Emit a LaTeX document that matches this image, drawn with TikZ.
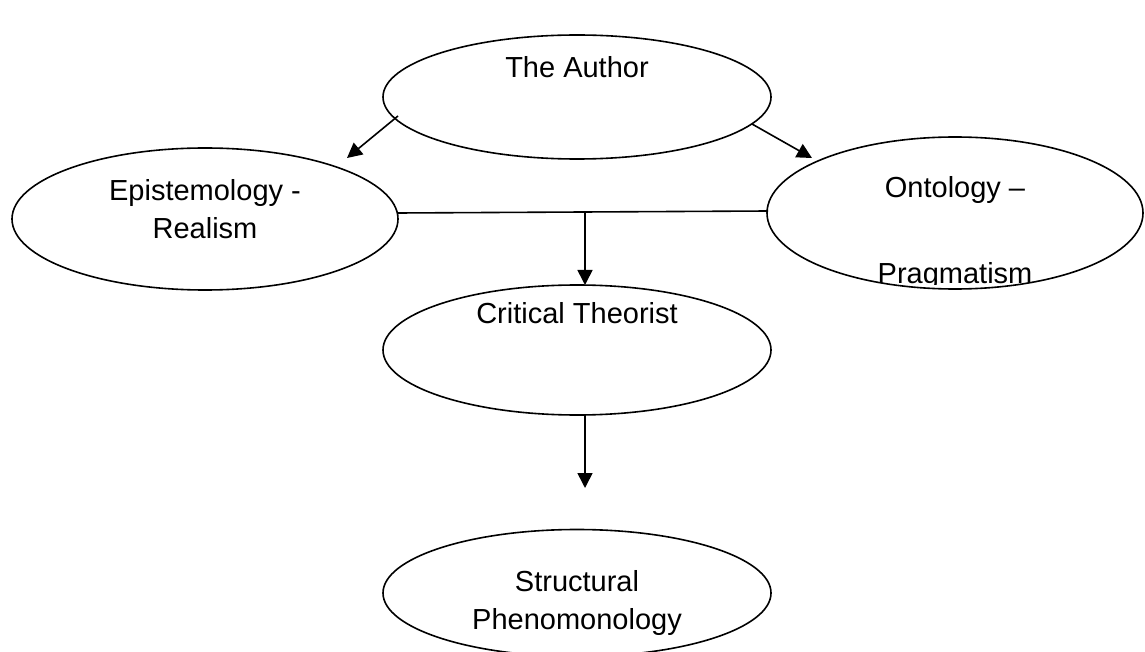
\documentclass[tikz,border=0pt]{standalone}
\usepackage{fontspec}
\setmainfont{Liberation Sans}
\usetikzlibrary{arrows.meta,shapes.geometric}
\begin{document}
\begin{tikzpicture}[x=1pt,y=-1pt,
  oval/.style={draw=black,line width=1.6pt,ellipse,inner sep=0pt,fill=white},
  lbl/.style={align=center,inner sep=0pt,font=\fontsize{29}{38}\selectfont},
  conn/.style={draw=black,line width=1.6pt},
  arr/.style={conn,-{Triangle[length=15pt,width=15pt]}}]
\useasboundingbox (0,0) rectangle (1145,652);
\clip (0,0) rectangle (1145,652);
\node[oval,minimum width=388pt,minimum height=124pt] (author) at (577,97) {};
\node[oval,minimum width=386pt,minimum height=142pt] (epi) at (205,219) {};
\node[oval,minimum width=376pt,minimum height=152pt] (onto) at (955,213) {};
\node[oval,minimum width=388pt,minimum height=130pt] (crit) at (577,350) {};
\node[oval,minimum width=388pt,minimum height=127pt] (struct) at (577,593) {};
\node[lbl] (tA) at (577,67) {The Author};
\node[lbl] (tE) at (205,209) {Epistemology -\\Realism};
\node[lbl] (tO) at (955,190) {Ontology –};
\begin{scope}
\clip (760,150) rectangle (1145,284);
\node[lbl] (tP) at (955,276) {Pragmatism};
\end{scope}
\node[lbl] (tC) at (577,313) {Critical Theorist};
\node[lbl] (tS) at (577,603) {Structural\\Phenomonology};
\coordinate (a1s) at (398,116);
\coordinate (a1e) at (347,158);
\coordinate (a2s) at (752,124);
\coordinate (a2e) at (812,158);
\coordinate (hL) at (398,213);
\coordinate (hR) at (768,211);
\coordinate (hM) at (585,212);
\coordinate (v1e) at (585,285);
\coordinate (v2s) at (585,415);
\coordinate (v2e) at (585,488);
\draw[arr] (a1s) -- (a1e);
\draw[arr] (a2s) -- (a2e);
\draw[conn] (hL) -- (hR);
\draw[arr] (hM) -- (v1e);
\draw[arr] (v2s) -- (v2e);
\end{tikzpicture}
\end{document}
